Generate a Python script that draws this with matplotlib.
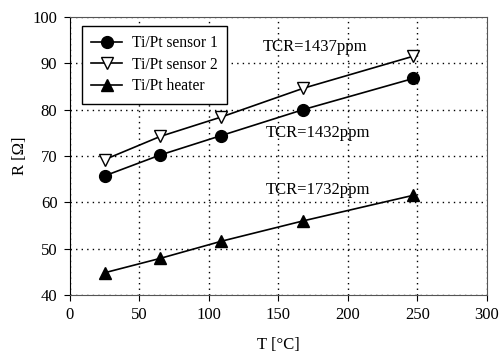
import matplotlib.pyplot as plt

# データ
temps = [25, 65, 109, 168, 247]
sensor1 = [65.7, 70.2, 74.4, 80.0, 86.7]
sensor2 = [69.2, 74.2, 78.4, 84.6, 91.5]
heater = [44.8, 47.9, 51.6, 56.0, 61.5]

plt.rcParams['font.family'] = ['Liberation Serif', 'DejaVu Serif']
plt.rcParams['font.size'] = 12

fig = plt.figure(figsize=(5.03, 3.58), dpi=100)
ax = fig.add_axes([0.139, 0.176, 0.829, 0.777])

ax.plot(temps, sensor1, '-o', color='black', lw=1.2, ms=8.5, label='Ti/Pt sensor 1')
ax.plot(temps, sensor2, '-v', color='black', mfc='white', lw=1.2, ms=8.5, label='Ti/Pt sensor 2')
ax.plot(temps, heater, '-^', color='black', lw=1.2, ms=8.5, label='Ti/Pt heater')

ax.text(139, 93.5, 'TCR=1437ppm', va='center')
ax.text(141, 75.0, 'TCR=1432ppm', va='center')
ax.text(141, 62.6, 'TCR=1732ppm', va='center')

ax.set_xlim(0, 300)
ax.set_ylim(40, 100)
ax.set_xticks(range(0, 301, 50))
ax.set_yticks(range(40, 101, 10))
ax.grid(True, color='black', linestyle=(0, (1, 3)), lw=1)
ax.tick_params(direction='out', length=4, color='black', pad=5)
for s in ['top', 'right', 'bottom']:
    ax.spines[s].set_color('#555555')

ax.set_xlabel('T [°C]', labelpad=10)
ax.set_ylabel('R [Ω]', labelpad=3)

leg = ax.legend(loc='upper left', bbox_to_anchor=(0.01, 0.995), fancybox=False,
                edgecolor='black', framealpha=1, handlelength=2.0, handletextpad=0.6,
                fontsize=11.2, borderpad=0.6, labelspacing=0.35)
leg.get_frame().set_linewidth(1)

plt.savefig('out.png', dpi=100)
